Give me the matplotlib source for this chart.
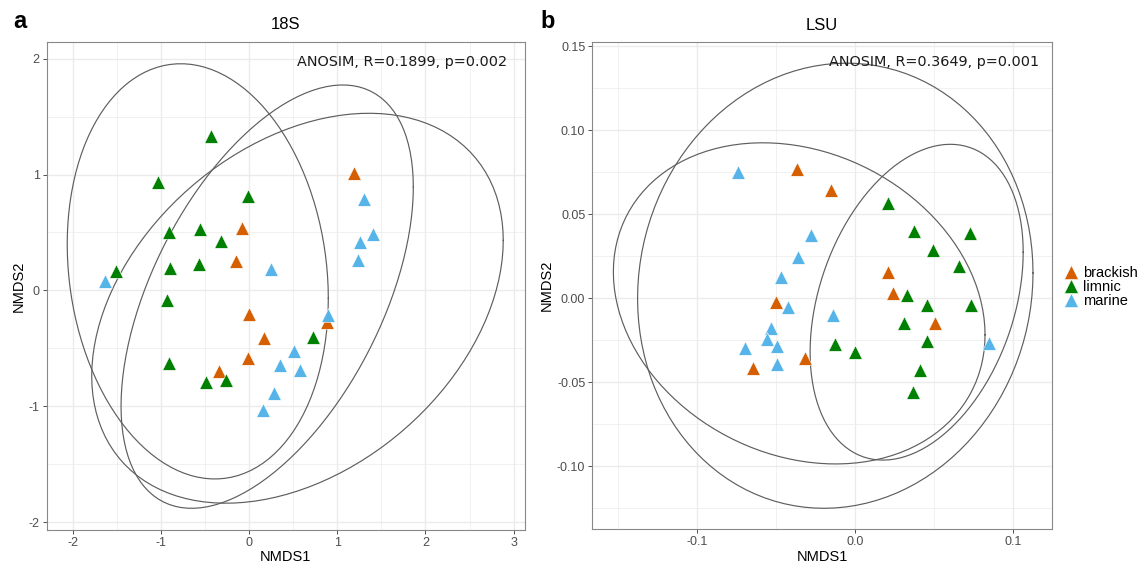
import matplotlib
matplotlib.use("Agg")
import matplotlib.pyplot as plt
from matplotlib.lines import Line2D
from matplotlib.ticker import MultipleLocator
import numpy as np

# Groups and colours
groups = ["brackish", "limnic", "marine"]
colors = {"brackish": "#D55E00", "limnic": "#008000", "marine": "#56B4E9"}

# 18S NMDS scores
s18_brackish_x = [1.19, -0.08, -0.154, -0.003, 0.878, 0.163, -0.018, -0.347]
s18_brackish_y = [1.01, 0.536, 0.257, -0.203, -0.274, -0.41, -0.585, -0.694]
s18_limnic_x = [-0.438, -1.04, -0.018, -0.915, -0.56, -0.318, -0.904, -0.571,
                -1.517, -0.93, 0.727, -0.908, -0.488, -0.268]
s18_limnic_y = [1.334, 0.938, 0.815, 0.504, 0.527, 0.43, 0.197, 0.226,
                0.168, -0.082, -0.404, -0.628, -0.792, -0.772]
s18_marine_x = [1.305, 1.408, 1.253, 1.23, 0.25, -1.638, 0.897, 0.504,
                0.345, 0.575, 0.28, 0.159]
s18_marine_y = [0.786, 0.487, 0.42, 0.263, 0.183, 0.085, -0.211, -0.522,
                -0.642, -0.685, -0.886, -1.03]

# 18S group ellipses: centre, x/y half extent and covariance term (brackish, limnic, marine)
s18_ell_cx = [0.203, -0.585, 0.547]
s18_ell_cy = [-0.053, 0.165, -0.153]
s18_ell_sx = [1.659, 1.482, 2.336]
s18_ell_sy = [1.825, 1.790, 1.681]
s18_ell_sxy = [1.566, -0.346, 1.365]

# LSU NMDS scores
lsu_brackish_x = [-0.0366, -0.0152, 0.021, 0.0242, -0.0501, 0.0505, -0.0314, -0.0642]
lsu_brackish_y = [0.0768, 0.0646, 0.0155, 0.003, -0.0022, -0.0149, -0.0355, -0.0417]
lsu_limnic_x = [0.021, 0.0371, 0.0724, 0.0491, 0.0659, 0.033, 0.0453, 0.0733,
                0.0312, 0.0453, -0.0124, 0.0002, 0.041, 0.0364]
lsu_limnic_y = [0.0569, 0.0402, 0.039, 0.0288, 0.0192, 0.002, -0.0042, -0.004,
                -0.0145, -0.0256, -0.0272, -0.0321, -0.0427, -0.0556]
lsu_marine_x = [-0.0737, -0.028, -0.0362, -0.0465, -0.0425, -0.0137, -0.0533,
                -0.0554, 0.0845, -0.0491, -0.0695, -0.0493]
lsu_marine_y = [0.0754, 0.0377, 0.0244, 0.0129, -0.005, -0.0098, -0.0179,
                -0.024, -0.0268, -0.0284, -0.0294, -0.0391]

# LSU group ellipses
lsu_ell_cx = [-0.0125, 0.0389, -0.0353]
lsu_ell_cy = [0.0075, -0.0023, -0.003]
lsu_ell_sx = [0.1249, 0.0673, 0.1174]
lsu_ell_sy = [0.1325, 0.0940, 0.0956]
lsu_ell_sxy = [0.00095, 0.0020, -0.0022]

titles = ["18S", "LSU"]
letters = ["a", "b"]
anosim = ["ANOSIM, R=0.1899, p=0.002", "ANOSIM, R=0.3649, p=0.001"]

plt.rcParams["font.family"] = ["Liberation Sans", "DejaVu Sans"]


def ellipse_path(cx, cy, sx, sy, sxy, segments=120):
    shape = np.array([[sx ** 2, sxy], [sxy, sy ** 2]])
    L = np.linalg.cholesky(shape)
    ang = np.linspace(0, 2 * np.pi, segments + 1)
    circle = np.column_stack([np.cos(ang), np.sin(ang)])
    e = np.array([cx, cy]) + circle @ L.T
    return e[:, 0], e[:, 1]


def draw_panel(ax, data, ells, xlim, ylim, xmajor, ymajor, xfmt, yfmt):
    for cx, cy, sx, sy, sxy in zip(*ells):
        ex, ey = ellipse_path(cx, cy, sx, sy, sxy)
        ax.plot(ex, ey, color="#5e5e5e", lw=0.85, zorder=2)
    for g, (xs, ys) in zip(groups, data):
        ax.scatter(xs, ys, marker="^", s=95, color=colors[g], edgecolors="white",
                   linewidths=0.4, zorder=3)
    ax.set_xlim(xlim)
    ax.set_ylim(ylim)
    ax.xaxis.set_major_locator(MultipleLocator(xmajor))
    ax.yaxis.set_major_locator(MultipleLocator(ymajor))
    ax.xaxis.set_minor_locator(MultipleLocator(xmajor / 2))
    ax.yaxis.set_minor_locator(MultipleLocator(ymajor / 2))
    ax.xaxis.set_major_formatter(xfmt)
    ax.yaxis.set_major_formatter(yfmt)
    ax.grid(True, which="major", color="#EBEBEB", lw=1.0, zorder=0)
    ax.grid(True, which="minor", color="#EBEBEB", lw=0.5, zorder=0)
    ax.set_axisbelow(True)
    ax.tick_params(which="major", length=3, width=0.6, color="#333333",
                   labelsize=9, labelcolor="#4D4D4D", pad=2)
    ax.tick_params(which="minor", length=0)
    for sp in ax.spines.values():
        sp.set_color("#888888")
        sp.set_linewidth(0.8)
    ax.set_xlabel("NMDS1", fontsize=10.5, labelpad=1)
    ax.set_ylabel("NMDS2", fontsize=10.5, labelpad=2)


W, H = 1142, 564
fig = plt.figure(figsize=(W / 100, H / 100), dpi=100)
ax1 = fig.add_axes([46.7 / W, (H - 530) / H, (525 - 46.7) / W, (530 - 41.7) / H])
ax2 = fig.add_axes([592.3 / W, (H - 529.3) / H, (1052 - 592.3) / W, (529.3 - 42) / H])

draw_panel(ax1,
           [(s18_brackish_x, s18_brackish_y), (s18_limnic_x, s18_limnic_y),
            (s18_marine_x, s18_marine_y)],
           (s18_ell_cx, s18_ell_cy, s18_ell_sx, s18_ell_sy, s18_ell_sxy),
           (-2.30, 3.13), (-2.065, 2.145), 1, 1,
           lambda v, p: f"{v:.0f}", lambda v, p: f"{v:.0f}")
draw_panel(ax2,
           [(lsu_brackish_x, lsu_brackish_y), (lsu_limnic_x, lsu_limnic_y),
            (lsu_marine_x, lsu_marine_y)],
           (lsu_ell_cx, lsu_ell_cy, lsu_ell_sx, lsu_ell_sy, lsu_ell_sxy),
           (-0.166, 0.1244), (-0.1375, 0.1526), 0.1, 0.05,
           lambda v, p: f"{v:.1f}", lambda v, p: f"{v:.2f}")

for ax, title, txt, xr in zip([ax1, ax2], titles, anosim, [0.9624, 0.9717]):
    ax.set_title(title, fontsize=12, pad=9)
    ax.text(xr, 0.958, txt, transform=ax.transAxes, ha="right", va="center",
            fontsize=10.4, family="DejaVu Sans", color="#1a1a1a")

fig.text(20 / W, 1 - 21 / H, letters[0], fontsize=17, fontweight="bold", ha="center", va="center")
fig.text(548 / W, 1 - 22 / H, letters[1], fontsize=17, fontweight="bold", ha="center", va="center")

handles = [Line2D([], [], marker="^", ls="", ms=10, color=colors[g],
                  markeredgecolor="white", markeredgewidth=0.4) for g in groups]
fig.legend(handles, groups, loc="center left", bbox_to_anchor=(1064 / W, 1 - 287 / H),
           frameon=False, fontsize=10.5, handlelength=1.0, handletextpad=0.3,
           labelspacing=0.0, borderaxespad=0, borderpad=0)

fig.savefig("out.png", dpi=100)
